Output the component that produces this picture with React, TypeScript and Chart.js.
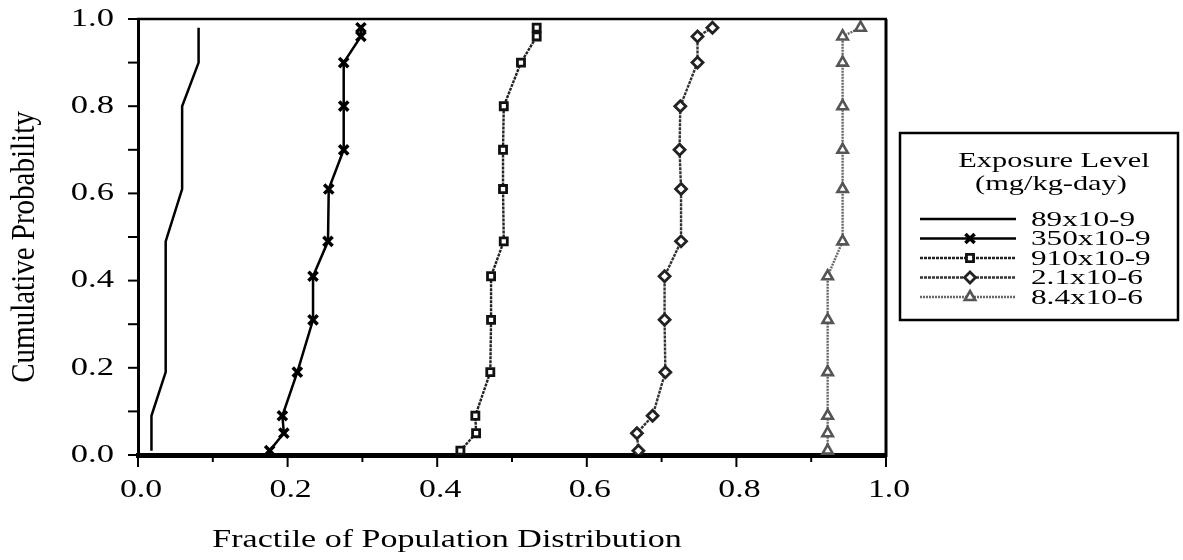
import React, { useEffect, useRef } from 'react';
import { Chart, registerables } from 'chart.js';
import { drawPoint } from 'chart.js/helpers';

Chart.register(...registerables);

// Cumulative probability levels shared by every curve (y values)
const probabilityLevels = [0.01, 0.05, 0.09, 0.19, 0.31, 0.41, 0.49, 0.61, 0.70, 0.80, 0.90, 0.96, 0.98];

// Fractile of population distribution (x values) for each exposure level
const fractile89e9 = [0.018, 0.018, 0.018, 0.037, 0.037, 0.037, 0.037, 0.059, 0.059, 0.059, 0.081, 0.081, 0.081];
const fractile350e9 = [0.176, 0.195, 0.193, 0.213, 0.234, 0.234, 0.254, 0.255, 0.275, 0.275, 0.275, 0.298, 0.298];
const fractile910e9 = [0.431, 0.452, 0.451, 0.471, 0.472, 0.472, 0.489, 0.488, 0.488, 0.489, 0.512, 0.533, 0.533];
const fractile2_1e6 = [0.669, 0.667, 0.688, 0.705, 0.704, 0.704, 0.726, 0.726, 0.724, 0.725, 0.748, 0.748, 0.768];
const fractile8_4e6 = [0.922, 0.922, 0.922, 0.922, 0.922, 0.922, 0.942, 0.942, 0.942, 0.942, 0.942, 0.942, 0.966];

const seriesLabels = ['89x10-9', '350x10-9', '910x10-9', '2.1x10-6', '8.4x10-6'];
const legendTitleLines = ['Exposure Level', '(mg/kg-day)'];
const xAxisTitle = 'Fractile of Population Distribution';
const yAxisTitle = 'Cumulative Probability';

const SERIF = "'Liberation Serif', 'Times New Roman', serif";

const toPoints = (xs: number[]) => probabilityLevels.map((p, i) => ({ x: xs[i], y: p }));

function wideText(ctx: CanvasRenderingContext2D, text: string, x: number, y: number, size: number, sx: number, align: CanvasTextAlign) {
  ctx.save();
  ctx.font = `${size}px ${SERIF}`;
  ctx.textAlign = align;
  ctx.textBaseline = 'middle';
  ctx.fillStyle = '#000';
  ctx.translate(x, y);
  ctx.scale(sx, 1);
  ctx.fillText(text, 0, 0);
  ctx.restore();
}

const isMajor = (v: number) => Math.round(v * 10) % 2 === 0;

const frameTicksLegend = {
  id: 'frameTicksLegend',
  afterDraw(chart: any) {
    const { ctx, chartArea } = chart;
    const xs = chart.scales.x;
    const ys = chart.scales.y;
    ctx.save();
    ctx.strokeStyle = '#000';

    // top and right frame lines
    ctx.lineWidth = 2.5;
    ctx.beginPath();
    ctx.moveTo(chartArea.left - 1, chartArea.top);
    ctx.lineTo(chartArea.right + 1, chartArea.top);
    ctx.stroke();
    ctx.lineWidth = 3;
    ctx.beginPath();
    ctx.moveTo(chartArea.right, chartArea.top);
    ctx.lineTo(chartArea.right, chartArea.bottom + 2);
    ctx.stroke();

    // x ticks and labels
    ctx.lineWidth = 2;
    xs.ticks.forEach((t: any) => {
      const px = xs.getPixelForValue(t.value);
      const major = isMajor(t.value);
      ctx.beginPath();
      ctx.moveTo(px, chartArea.bottom + 2);
      ctx.lineTo(px, chartArea.bottom + (major ? 12 : 7));
      ctx.stroke();
      if (major) wideText(ctx, Number(t.value).toFixed(1), px + 3, 490, 26, 1.3, 'center');
    });

    // y ticks and labels
    ys.ticks.forEach((t: any) => {
      const py = ys.getPixelForValue(t.value);
      ctx.beginPath();
      ctx.moveTo(chartArea.left - 1, py);
      ctx.lineTo(chartArea.left - 10, py);
      ctx.stroke();
      if (isMajor(t.value)) wideText(ctx, Number(t.value).toFixed(1), 114, py, 26, 1.33, 'right');
    });

    // axis titles
    wideText(ctx, xAxisTitle, 447, 540, 25, 1.36, 'center');
    ctx.save();
    ctx.translate(25, 247);
    ctx.rotate(-Math.PI / 2);
    ctx.scale(1, 1.15);
    ctx.font = `29px ${SERIF}`;
    ctx.textAlign = 'center';
    ctx.textBaseline = 'middle';
    ctx.fillStyle = '#000';
    ctx.fillText(yAxisTitle, 0, 0);
    ctx.restore();

    // legend box
    const bx = 900, by = 133, bw = 278, bh = 187;
    ctx.lineWidth = 2.5;
    ctx.strokeRect(bx, by, bw, bh);
    wideText(ctx, legendTitleLines[0], bx + 154, by + 28, 22, 1.38, 'center');
    wideText(ctx, legendTitleLines[1], bx + 151, by + 51, 22, 1.38, 'center');

    chart.data.datasets.forEach((ds: any, i: number) => {
      const y = by + 86 + i * 19.5;
      ctx.strokeStyle = ds.borderColor;
      ctx.lineWidth = ds.borderWidth;
      ctx.setLineDash(ds.borderDash || []);
      ctx.beginPath();
      ctx.moveTo(bx + 20, y);
      ctx.lineTo(bx + 116, y);
      ctx.stroke();
      ctx.setLineDash([]);
      if (ds.pointRadius > 0) {
        ctx.fillStyle = ds.pointBackgroundColor;
        ctx.strokeStyle = ds.pointBorderColor;
        ctx.lineWidth = ds.pointBorderWidth;
        drawPoint(ctx, { pointStyle: ds.pointStyle, radius: ds.pointRadius, rotation: 0, borderWidth: ds.pointBorderWidth }, bx + 70, y);
      }
      wideText(ctx, ds.label, bx + 131, y + 1, 22, 1.42, 'left');
    });
    ctx.restore();
  },
};

export default function App() {
  const canvasRef = useRef<HTMLCanvasElement | null>(null);

  useEffect(() => {
    document.body.style.margin = '0';
    const canvas = canvasRef.current;
    if (!canvas) return;

    const chart = new Chart(canvas, {
      type: 'line',
      data: {
        datasets: [
          {
            label: seriesLabels[0],
            data: toPoints(fractile89e9),
            borderColor: '#000',
            borderWidth: 2.5,
            pointRadius: 0,
            pointBackgroundColor: '#000',
            pointBorderColor: '#000',
            pointBorderWidth: 1,
            pointStyle: 'circle',
          },
          {
            label: seriesLabels[1],
            data: toPoints(fractile350e9),
            borderColor: '#000',
            borderWidth: 2.5,
            pointRadius: 6.5,
            pointStyle: 'crossRot',
            pointBackgroundColor: '#000',
            pointBorderColor: '#000',
            pointBorderWidth: 3.5,
          },
          {
            label: seriesLabels[2],
            data: toPoints(fractile910e9),
            borderColor: '#222',
            borderWidth: 2.4,
            borderDash: [3, 1],
            pointRadius: 5,
            pointStyle: 'rect',
            pointBackgroundColor: '#fff',
            pointBorderColor: '#111',
            pointBorderWidth: 2.8,
          },
          {
            label: seriesLabels[3],
            data: toPoints(fractile2_1e6),
            borderColor: '#333',
            borderWidth: 2.4,
            borderDash: [3, 1],
            pointRadius: 5.5,
            pointStyle: 'rectRot',
            pointBackgroundColor: '#fff',
            pointBorderColor: '#222',
            pointBorderWidth: 2.8,
          },
          {
            label: seriesLabels[4],
            data: toPoints(fractile8_4e6),
            borderColor: '#666',
            borderWidth: 2.4,
            borderDash: [2, 1],
            pointRadius: 6,
            pointStyle: 'triangle',
            pointBackgroundColor: '#fff',
            pointBorderColor: '#555',
            pointBorderWidth: 2.6,
          },
        ],
      },
      options: {
        animation: false,
        responsive: true,
        maintainAspectRatio: false,
        layout: { padding: { left: 0, top: 19, right: 297, bottom: 0 } },
        plugins: {
          legend: { display: false },
          tooltip: { enabled: false },
        },
        elements: { line: { tension: 0 } },
        scales: {
          x: {
            type: 'linear',
            min: 0,
            max: 1,
            afterFit: (scale: any) => { scale.height = 105; },
            border: { display: true, color: '#000', width: 5 },
            grid: { display: false },
            ticks: { stepSize: 0.1, autoSkip: false, display: false },
            title: { display: false },
          },
          y: {
            type: 'linear',
            min: 0,
            max: 1,
            afterFit: (scale: any) => { scale.width = 138; },
            border: { display: true, color: '#000', width: 3 },
            grid: { display: false },
            ticks: { stepSize: 0.1, autoSkip: false, display: false },
            title: { display: false },
          },
        },
      },
      plugins: [frameTicksLegend],
    } as any);

    return () => chart.destroy();
  }, []);

  return (
    <div style={{ width: 1183, height: 560, position: 'relative', background: '#fff' }}>
      <canvas ref={canvasRef} />
    </div>
  );
}
